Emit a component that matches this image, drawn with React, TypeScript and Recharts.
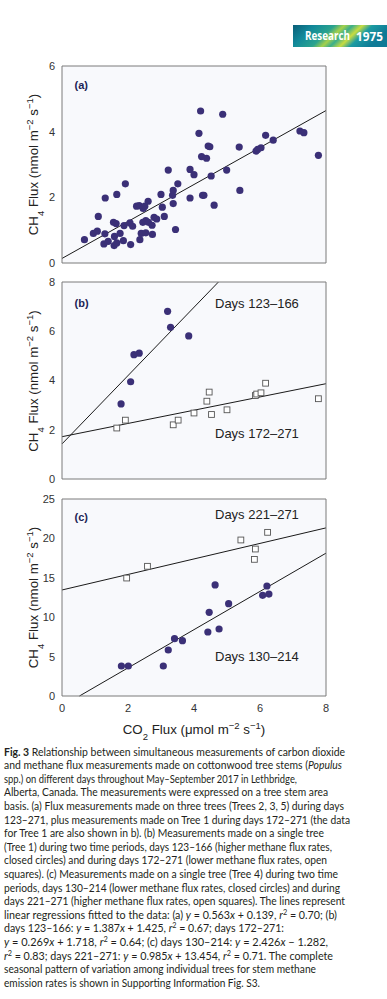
import React from "react";
import { ScatterChart, Scatter, XAxis, YAxis, CartesianGrid, ReferenceLine } from "recharts";

// ---------- data ----------
const X_TICKS = [0, 2, 4, 6, 8];
const Y_TICKS_A = [0, 2, 4, 6];
const Y_TICKS_B = [0, 2, 4, 6, 8];
const Y_TICKS_C = [0, 5, 10, 15, 20, 25];

// (a) Trees 2,3,5 days 123–271 + Tree 1 days 172–271  [CO2, CH4]
const panelAPoints: [number, number][] = [
  [0.68, 0.71], [0.95, 0.9], [1.07, 0.97], [1.1, 1.42], [1.31, 1.98], [1.3, 0.89], [1.27, 0.58],
  [1.4, 0.66], [1.56, 1.24], [1.64, 1.2], [1.58, 0.53], [1.66, 0.61], [1.59, 0.81], [1.76, 0.9],
  [1.66, 2.09], [1.92, 2.41], [1.86, 0.68], [1.88, 1.14], [2.06, 1.22], [2.14, 1.12], [2.08, 0.56],
  [2.26, 1.73], [2.34, 1.75], [2.46, 1.66], [2.51, 1.73], [2.61, 1.88], [2.36, 0.71], [2.4, 0.9],
  [2.54, 0.92], [2.45, 1.24], [2.54, 1.29], [2.62, 1.24], [2.73, 1.15], [2.74, 0.87], [2.79, 1.39],
  [2.87, 1.34], [3.0, 2.09], [3.04, 1.7], [3.1, 1.42], [3.22, 2.83], [3.35, 2.06], [3.37, 2.21],
  [3.37, 1.81], [3.44, 1.02], [3.51, 2.41], [3.88, 2.85], [4.0, 2.69], [3.88, 1.98], [4.15, 3.95],
  [4.2, 4.63], [4.23, 3.24], [4.26, 2.06], [4.3, 2.06], [4.38, 3.19], [4.43, 3.56], [4.48, 3.54],
  [4.52, 2.65], [4.61, 1.76], [4.87, 4.53], [4.99, 2.83], [5.37, 3.53], [5.39, 2.21], [5.88, 3.41],
  [5.93, 3.46], [6.03, 3.51], [6.17, 3.89], [6.4, 3.74], [7.21, 4.02], [7.33, 3.97], [7.77, 3.28],
];

// (b) Tree 1
const tree1Days123to166: [number, number][] = [
  [1.79, 3.05], [2.08, 3.95], [2.18, 5.05], [2.34, 5.11], [3.2, 6.81], [3.29, 6.16], [3.84, 5.81],
];
const tree1Days172to271: [number, number][] = [
  [1.66, 2.07], [1.92, 2.39], [3.37, 2.2], [3.52, 2.39], [4.0, 2.68], [4.39, 3.16], [4.46, 3.53],
  [4.53, 2.62], [5.0, 2.81], [5.86, 3.39], [5.9, 3.45], [6.03, 3.5], [6.17, 3.89], [7.77, 3.26],
];

// (c) Tree 4
const tree4Days130to214: [number, number][] = [
  [1.8, 3.81], [2.01, 3.81], [3.07, 3.81], [3.22, 5.84], [3.41, 7.28], [3.65, 7.02], [4.42, 8.12],
  [4.46, 10.62], [4.64, 14.09], [4.76, 8.5], [5.05, 11.72], [6.08, 12.77], [6.21, 13.96], [6.27, 12.94],
];
const tree4Days221to271: [number, number][] = [
  [1.96, 14.97], [2.59, 16.46], [5.42, 19.8], [5.86, 18.65], [5.83, 17.34], [6.23, 20.77],
];

// regressions from the caption
const FIT_A = { slope: 0.563, intercept: 0.139 };
const FIT_B_EARLY = { slope: 1.387, intercept: 1.425 };
const FIT_B_LATE = { slope: 0.269, intercept: 1.718 };
const FIT_C_EARLY = { slope: 2.426, intercept: -1.282 };
const FIT_C_LATE = { slope: 0.985, intercept: 13.454 };

const toPts = (a: [number, number][]) => a.map(([x, y]) => ({ x, y }));

// ---------- styling ----------
const AX = "#7b7b7b";
const DOT = "#3b3077";
const TICK_FONT = "'Liberation Sans', Arial, sans-serif";

const Dot = (p: any) => (p.cx == null ? <g /> : <circle cx={p.cx} cy={p.cy} r={3.6} fill={DOT} />);
const Sq = (p: any) =>
  p.cx == null ? <g /> : (
    <rect x={p.cx - 2.9} y={p.cy - 2.9} width={5.8} height={5.8} fill="#fff" stroke="#555" strokeWidth={0.9} />
  );

function fitSegment(fit: { slope: number; intercept: number }, yMax: number) {
  const yAt = (x: number) => fit.slope * x + fit.intercept;
  let x0 = 0;
  let x1 = 8;
  if (yAt(x0) < 0) x0 = -fit.intercept / fit.slope;
  if (yAt(x1) > yMax) x1 = (yMax - fit.intercept) / fit.slope;
  return [
    { x: x0, y: yAt(x0) },
    { x: x1, y: yAt(x1) },
  ];
}

type PanelProps = {
  top: number;
  yMax: number;
  yTicks: number[];
  circles: [number, number][];
  squares?: [number, number][];
  fits: { slope: number; intercept: number }[];
  xLabels?: boolean;
};

function Panel({ top, yMax, yTicks, circles, squares, fits, xLabels }: PanelProps) {
  const h = xLabels ? 237 : 219;
  return (
    <div style={{ position: "absolute", left: 0, top }}>
      <ScatterChart
        width={387}
        height={h}
        margin={{ top: 10, right: 61, bottom: xLabels ? 0 : 12, left: 22 }}
      >
        <CartesianGrid fill="#f8f9fc" horizontal={false} vertical={false} stroke="none" />
        {xLabels ? (
          <XAxis
            xAxisId={0}
            type="number"
            dataKey="x"
            domain={[0, 8]}
            ticks={X_TICKS}
            allowDataOverflow
            orientation="bottom"
            height={30}
            tickLine={false}
            axisLine={false}
            tickSize={0}
            tickMargin={8}
            interval={0}
            tick={{ fontSize: 11, fill: "#333", fontFamily: TICK_FONT }}
          />
        ) : null}
        <XAxis
          xAxisId={xLabels ? "inb" : 0}
          type="number"
          dataKey="x"
          domain={[0, 8]}
          ticks={X_TICKS}
          allowDataOverflow
          orientation="bottom"
          mirror
          tick={false}
          tickSize={4}
          stroke={AX}
        />
        <XAxis
          xAxisId="top"
          type="number"
          domain={[0, 8]}
          ticks={X_TICKS}
          allowDataOverflow
          orientation="top"
          mirror
          tick={false}
          tickSize={4}
          stroke={AX}
        />
        <YAxis
          yAxisId={0}
          type="number"
          dataKey="y"
          domain={[0, yMax]}
          ticks={yTicks}
          allowDataOverflow
          orientation="left"
          mirror
          tick={false}
          tickSize={4}
          stroke={AX}
        />
        <YAxis
          yAxisId="lab"
          type="number"
          domain={[0, yMax]}
          ticks={yTicks}
          allowDataOverflow
          orientation="left"
          width={40}
          tickLine={false}
          axisLine={false}
          tickSize={0}
          tickMargin={7}
          interval={0}
          tick={{ fontSize: 11, fill: "#333", fontFamily: TICK_FONT }}
        />
        <YAxis
          yAxisId="right"
          type="number"
          domain={[0, yMax]}
          ticks={yTicks}
          allowDataOverflow
          orientation="right"
          mirror
          tick={false}
          tickSize={4}
          stroke={AX}
        />
        {fits.map((f, i) => (
          <ReferenceLine
            key={i}
            xAxisId={0}
            yAxisId={0}
            segment={fitSegment(f, yMax)}
            stroke="#1a1a1a"
            strokeWidth={1}
            ifOverflow="visible"
          />
        ))}
        {squares && (
          <Scatter xAxisId={0} yAxisId={0} data={toPts(squares)} shape={Sq} isAnimationActive={false} />
        )}
        <Scatter xAxisId={0} yAxisId={0} data={toPts(circles)} shape={Dot} isAnimationActive={false} />
      </ScatterChart>
    </div>
  );
}

// ---------- caption ----------
type Seg = { t: string; b?: boolean; i?: boolean; sup?: boolean };
const CAPTION: Seg[][] = [
  [{ t: "Fig. 3", b: true }, { t: "  Relationship between simultaneous measurements of carbon dioxide" }],
  [{ t: "and methane flux measurements made on cottonwood tree stems (" }, { t: "Populus", i: true }],
  [{ t: "spp.) on different days throughout May–September 2017 in Lethbridge," }],
  [{ t: "Alberta, Canada. The measurements were expressed on a tree stem area" }],
  [{ t: "basis. (a) Flux measurements made on three trees (Trees 2, 3, 5) during days" }],
  [{ t: "123–271, plus measurements made on Tree 1 during days 172–271 (the data" }],
  [{ t: "for Tree 1 are also shown in b). (b) Measurements made on a single tree" }],
  [{ t: "(Tree 1) during two time periods, days 123–166 (higher methane flux rates," }],
  [{ t: "closed circles) and during days 172–271 (lower methane flux rates, open" }],
  [{ t: "squares). (c) Measurements made on a single tree (Tree 4) during two time" }],
  [{ t: "periods, days 130–214 (lower methane flux rates, closed circles) and during" }],
  [{ t: "days 221–271 (higher methane flux rates, open squares). The lines represent" }],
  [
    { t: "linear regressions fitted to the data: (a) " }, { t: "y", i: true }, { t: " = 0.563" }, { t: "x", i: true },
    { t: " + 0.139, " }, { t: "r", i: true }, { t: "2", sup: true }, { t: " = 0.70; (b)" },
  ],
  [
    { t: "days 123–166: " }, { t: "y", i: true }, { t: " = 1.387" }, { t: "x", i: true }, { t: " + 1.425, " },
    { t: "r", i: true }, { t: "2", sup: true }, { t: " = 0.67; days 172–271:" },
  ],
  [
    { t: "y", i: true }, { t: " = 0.269" }, { t: "x", i: true }, { t: " + 1.718, " }, { t: "r", i: true },
    { t: "2", sup: true }, { t: " = 0.64; (c) days 130–214: " }, { t: "y", i: true }, { t: " = 2.426" },
    { t: "x", i: true }, { t: " − 1.282," },
  ],
  [
    { t: "r", i: true }, { t: "2", sup: true }, { t: " = 0.83; days 221–271: " }, { t: "y", i: true },
    { t: " = 0.985" }, { t: "x", i: true }, { t: " + 13.454, " }, { t: "r", i: true }, { t: "2", sup: true },
    { t: " = 0.71. The complete" },
  ],
  [{ t: "seasonal pattern of variation among individual trees for stem methane" }],
  [{ t: "emission rates is shown in Supporting Information Fig. S3." }],
];
const CAPTION_WIDTHS = [341, 338, 293, 324, 340, 346, 320, 328, 323, 334, 336, 341, 333, 280, 324, 329, 312, 256];

const Y_TITLE_CENTERS = [164.5, 381, 597.5];
const PANEL_LABELS = [
  { t: "(a)", y: 88.5 },
  { t: "(b)", y: 306.7 },
  { t: "(c)", y: 520.7 },
];
const PERIOD_LABELS = [
  { t: "Days 123–166", y: 307.5 },
  { t: "Days 172–271", y: 438.4 },
  { t: "Days 221–271", y: 519.4 },
  { t: "Days 130–214", y: 660.7 },
];

export default function App() {
  return (
    <div style={{ position: "absolute", left: 0, top: 0, width: 387, height: 999, background: "#fff", overflow: "hidden" }}>
      <Panel top={56} yMax={6} yTicks={Y_TICKS_A} circles={panelAPoints} fits={[FIT_A]} />
      <Panel
        top={272}
        yMax={8}
        yTicks={Y_TICKS_B}
        circles={tree1Days123to166}
        squares={tree1Days172to271}
        fits={[FIT_B_EARLY, FIT_B_LATE]}
      />
      <Panel
        top={489}
        yMax={25}
        yTicks={Y_TICKS_C}
        circles={tree4Days130to214}
        squares={tree4Days221to271}
        fits={[FIT_C_EARLY, FIT_C_LATE]}
        xLabels
      />
      <svg
        width={387}
        height={999}
        style={{ position: "absolute", left: 0, top: 0, pointerEvents: "none" }}
      >
        <defs>
          <linearGradient id="banner" x1="0" y1="0" x2="1" y2="0.25">
            <stop offset="0" stopColor="#0a5d77" />
            <stop offset="0.22" stopColor="#12899a" />
            <stop offset="0.42" stopColor="#2aa38e" />
            <stop offset="0.52" stopColor="#a6d14a" />
            <stop offset="0.6" stopColor="#3aae8c" />
            <stop offset="0.7" stopColor="#c9dc40" />
            <stop offset="0.8" stopColor="#1c9ba2" />
            <stop offset="1" stopColor="#0e7a96" />
          </linearGradient>
        </defs>
        <rect x={293} y={25} width={94} height={22} fill="url(#banner)" />
        <text
          x={305}
          y={40}
          fill="#fff"
          fontFamily="'Open Sans', sans-serif"
          fontWeight={700}
          fontSize={12}
          textLength={45}
          lengthAdjust="spacingAndGlyphs"
        >
          Research
        </text>
        <text
          x={356}
          y={40.5}
          fill="#fff"
          fontFamily="'Open Sans', sans-serif"
          fontWeight={700}
          fontSize={13}
          textLength={27}
          lengthAdjust="spacingAndGlyphs"
        >
          1975
        </text>

        {Y_TITLE_CENTERS.map((cy, k) => (
          <text
            key={k}
            x={37.5}
            y={cy}
            transform={`rotate(-90 37.5 ${cy})`}
            textAnchor="middle"
            fontFamily={TICK_FONT}
            fontSize={13.3}
            fill="#222"
          >
            CH<tspan baselineShift="sub" fontSize={9.5}>4</tspan>
            <tspan> Flux (nmol m</tspan>
            <tspan baselineShift="super" fontSize={9.5}>−2</tspan>
            <tspan> s</tspan>
            <tspan baselineShift="super" fontSize={9.5}>−1</tspan>
            <tspan>)</tspan>
          </text>
        ))}

        <text x={194} y={733.5} textAnchor="middle" fontFamily={TICK_FONT} fontSize={13.3} fill="#222">
          CO<tspan baselineShift="sub" fontSize={9.5}>2</tspan>
          <tspan> Flux (μmol m</tspan>
          <tspan baselineShift="super" fontSize={9.5}>−2</tspan>
          <tspan> s</tspan>
          <tspan baselineShift="super" fontSize={9.5}>−1</tspan>
          <tspan>)</tspan>
        </text>

        {PANEL_LABELS.map((l) => (
          <text key={l.t} x={74.5} y={l.y} fontFamily={TICK_FONT} fontWeight={700} fontSize={11} fill="#1d2456">
            {l.t}
          </text>
        ))}
        {PERIOD_LABELS.map((l) => (
          <text key={l.t} x={215} y={l.y} fontFamily={TICK_FONT} fontSize={13} fill="#222">
            {l.t}
          </text>
        ))}

        {CAPTION.map((line, k) => (
          <text
            key={k}
            x={4}
            y={755.5 + k * 13.6}
            textLength={CAPTION_WIDTHS[k]}
            lengthAdjust="spacingAndGlyphs"
            fontFamily="Lato, 'Open Sans', sans-serif"
            fontSize={11}
            fill="#231f20"
          >
            {line.map((s, j) => (
              <tspan
                key={j}
                fontWeight={s.b ? 700 : undefined}
                fontStyle={s.i ? "italic" : undefined}
                baselineShift={s.sup ? "super" : undefined}
                fontSize={s.sup ? 7.5 : undefined}
              >
                {s.t}
              </tspan>
            ))}
          </text>
        ))}
      </svg>
    </div>
  );
}
